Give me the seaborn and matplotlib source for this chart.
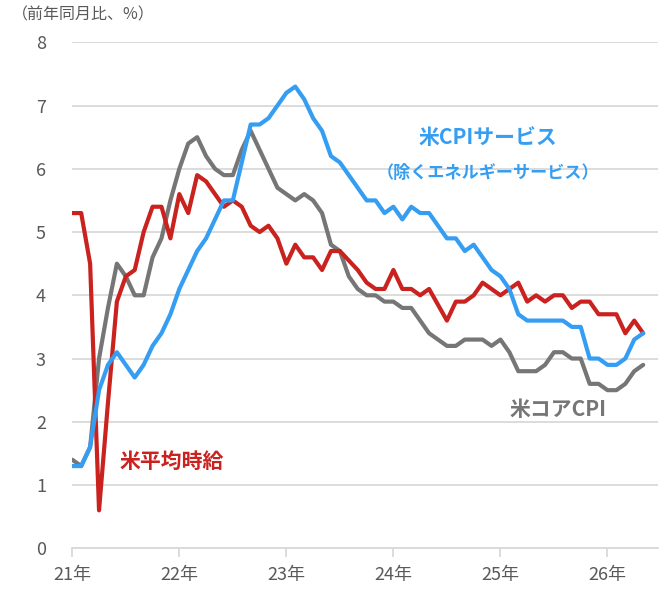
import pandas as pd
import matplotlib
matplotlib.use("Agg")
import matplotlib.pyplot as plt
import seaborn as sns

# 2021年1月〜2026年5月（月次、前年同月比 %）
core_cpi = [1.4, 1.3, 1.6, 3.0, 3.8, 4.5, 4.3, 4.0, 4.0, 4.6, 4.9, 5.5,
            6.0, 6.4, 6.5, 6.2, 6.0, 5.9, 5.9, 6.3, 6.6, 6.3, 6.0, 5.7,
            5.6, 5.5, 5.6, 5.5, 5.3, 4.8, 4.7, 4.3, 4.1, 4.0, 4.0, 3.9,
            3.9, 3.8, 3.8, 3.6, 3.4, 3.3, 3.2, 3.2, 3.3, 3.3, 3.3, 3.2,
            3.3, 3.1, 2.8, 2.8, 2.8, 2.9, 3.1, 3.1, 3.0, 3.0, 2.6, 2.6,
            2.5, 2.5, 2.6, 2.8, 2.9]

services_cpi = [1.3, 1.3, 1.6, 2.5, 2.9, 3.1, 2.9, 2.7, 2.9, 3.2, 3.4, 3.7,
                4.1, 4.4, 4.7, 4.9, 5.2, 5.5, 5.5, 6.1, 6.7, 6.7, 6.8, 7.0,
                7.2, 7.3, 7.1, 6.8, 6.6, 6.2, 6.1, 5.9, 5.7, 5.5, 5.5, 5.3,
                5.4, 5.2, 5.4, 5.3, 5.3, 5.1, 4.9, 4.9, 4.7, 4.8, 4.6, 4.4,
                4.3, 4.1, 3.7, 3.6, 3.6, 3.6, 3.6, 3.6, 3.5, 3.5, 3.0, 3.0,
                2.9, 2.9, 3.0, 3.3, 3.4]

hourly_wage = [5.3, 5.3, 4.5, 0.6, 2.3, 3.9, 4.3, 4.4, 5.0, 5.4, 5.4, 4.9,
               5.6, 5.3, 5.9, 5.8, 5.6, 5.4, 5.5, 5.4, 5.1, 5.0, 5.1, 4.9,
               4.5, 4.8, 4.6, 4.6, 4.4, 4.7, 4.7, 4.55, 4.4, 4.2, 4.1, 4.1,
               4.4, 4.1, 4.1, 4.0, 4.1, 3.85, 3.6, 3.9, 3.9, 4.0, 4.2, 4.1,
               4.0, 4.1, 4.2, 3.9, 4.0, 3.9, 4.0, 4.0, 3.8, 3.9, 3.9, 3.7,
               3.7, 3.7, 3.4, 3.6, 3.4]

year_labels = ["21年", "22年", "23年", "24年", "25年", "26年"]

RED = "#c9221f"
BLUE = "#359ef2"
GRAY = "#767676"
TEXT = "#595959"
GRID = "#d9d9d9"

df = pd.DataFrame({
    "month": range(len(core_cpi)),
    "core": core_cpi,
    "services": services_cpi,
    "wage": hourly_wage,
})

sns.set_theme(style="white")
plt.rcParams["font.family"] = ["Noto Sans CJK JP", "DejaVu Sans"]

fig = plt.figure(figsize=(6.68, 5.89), dpi=100)
ax = fig.add_axes([0.1082, 0.0691, 0.8768, 0.8591])

sns.lineplot(data=df, x="month", y="core", color=GRAY, linewidth=3, ax=ax)
sns.lineplot(data=df, x="month", y="wage", color=RED, linewidth=3, ax=ax)
sns.lineplot(data=df, x="month", y="services", color=BLUE, linewidth=3, ax=ax)

ax.set_xlim(0, 65.66)
ax.set_ylim(0, 8)
ax.set_yticks(range(0, 9))
ax.set_xticks([12 * i for i in range(len(year_labels))])
ax.set_xticklabels(year_labels)
ax.set_xlabel("")
ax.set_ylabel("")

ax.grid(axis="y", color=GRID, linewidth=1.3)
ax.set_axisbelow(True)
for side in ["left", "right", "top"]:
    ax.spines[side].set_visible(False)
ax.spines["bottom"].set_color(GRID)
ax.spines["bottom"].set_linewidth(1.3)

ax.tick_params(axis="y", length=0, pad=19, labelsize=13, labelcolor=TEXT)
ax.tick_params(axis="x", direction="out", length=6.5, width=1.3, color=GRID,
               pad=6, labelsize=13, labelcolor=TEXT, bottom=True)

ax.text(46.6, 6.50, "米CPIサービス", color=BLUE, fontsize=15,
        fontweight="bold", ha="center", va="center")
ax.text(46.6, 5.93, "（除くエネルギーサービス）", color=BLUE, fontsize=12.3,
        fontweight="bold", ha="center", va="center")
ax.text(11.2, 1.37, "米平均時給", color=RED, fontsize=15,
        fontweight="bold", ha="center", va="center")
ax.text(54.5, 2.20, "米コアCPI", color=GRAY, fontsize=15,
        fontweight="bold", ha="center", va="center")

fig.text(0.0175, 0.975, "（前年同月比、%）", color=TEXT, fontsize=11.5,
         ha="left", va="center")

fig.savefig("out.png", dpi=100)
